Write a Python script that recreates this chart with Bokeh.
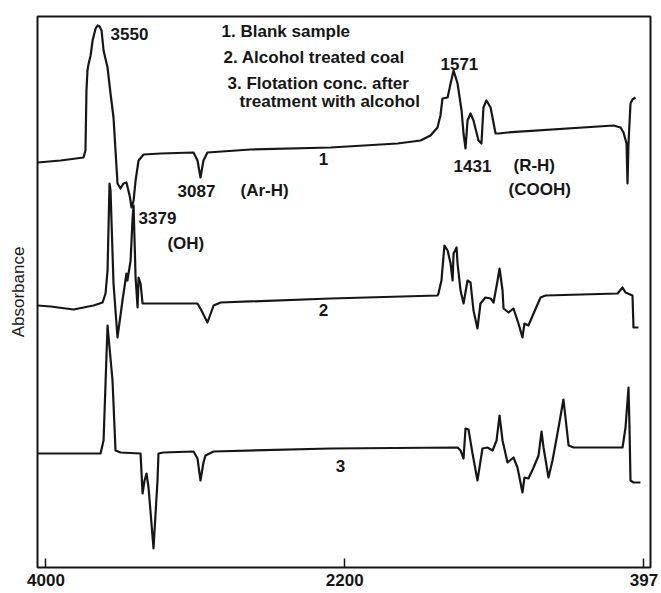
from bokeh.plotting import figure
from bokeh.models import Range1d, FixedTicker, ColumnDataSource
from bokeh.core.properties import value
from bokeh.embed import file_html
from bokeh.resources import INLINE

# --- IR spectra (wavenumber in cm-1, absorbance in arbitrary offset units) ---
# 1. Blank sample
wn1 = [4051, 3912, 3774, 3762, 3756, 3750, 3744, 3731, 3719, 3701, 3689, 3677, 3665,
       3653, 3629, 3611, 3593, 3581, 3569, 3551, 3533, 3515, 3496, 3484, 3472, 3460,
       3442, 3412, 3310, 3111, 3087, 3069, 3051, 3027, 2767, 2285, 1882, 1743, 1683,
       1641, 1623, 1611, 1580, 1562, 1544, 1520, 1496, 1484, 1472, 1460, 1442, 1424,
       1394, 1376, 1364, 1346, 1321, 1291, 1273, 1219, 580, 538, 520, 502, 496, 490,
       478, 466, 448]
ab1 = [4.05, 4.07, 4.10, 4.17, 4.77, 4.97, 5.03, 5.12, 5.27, 5.39, 5.42, 5.41, 5.37,
       5.17, 5.00, 4.74, 4.50, 4.17, 3.84, 3.79, 3.84, 3.85, 3.72, 3.60, 3.67, 3.87,
       4.07, 4.13, 4.14, 4.15, 4.07, 3.90, 4.07, 4.15, 4.18, 4.20, 4.24, 4.27, 4.32,
       4.40, 4.52, 4.69, 4.70, 4.84, 4.97, 4.84, 4.57, 4.34, 4.19, 4.47, 4.54, 4.47,
       4.27, 4.24, 4.60, 4.67, 4.60, 4.34, 4.34, 4.35, 4.42, 4.40, 4.35, 4.24, 3.84,
       4.24, 4.64, 4.68, 4.70]

# 2. Alcohol treated coal
wn2 = [4051, 3972, 3834, 3713, 3659, 3641, 3629, 3617, 3611, 3593, 3569, 3539, 3515,
       3509, 3490, 3478, 3472, 3460, 3448, 3442, 3430, 3418, 3388, 3087, 3063, 3027,
       2990, 2948, 2285, 1641, 1635, 1617, 1599, 1580, 1562, 1550, 1544, 1526, 1520,
       1502, 1484, 1460, 1442, 1424, 1400, 1382, 1352, 1321, 1303, 1279, 1267, 1249,
       1243, 1213, 1183, 1153, 1129, 1117, 1093, 1062, 1020, 990, 556, 526, 508, 466,
       460, 430]
ab2 = [2.62, 2.61, 2.58, 2.62, 2.65, 2.74, 2.97, 3.84, 3.77, 2.84, 2.30, 2.67, 2.94,
       2.87, 3.07, 3.50, 3.62, 2.90, 2.60, 2.90, 2.84, 2.64, 2.64, 2.64, 2.57, 2.45,
       2.62, 2.65, 2.69, 2.72, 2.74, 2.87, 3.22, 3.17, 3.04, 2.87, 3.14, 3.20, 3.04,
       2.77, 2.64, 2.87, 2.85, 2.57, 2.39, 2.64, 2.70, 2.69, 2.65, 2.87, 2.99, 2.77,
       2.59, 2.55, 2.59, 2.44, 2.30, 2.44, 2.42, 2.54, 2.70, 2.72, 2.74, 2.80, 2.75,
       2.72, 2.40, 2.40]

# 3. Flotation concentrate after treatment with alcohol
wn3 = [4051, 3671, 3653, 3629, 3599, 3581, 3551, 3430, 3418, 3406, 3394, 3382, 3352,
       3328, 3322, 3292, 3111, 3087, 3069, 3051, 3039, 2990, 2285, 1520, 1502, 1484,
       1472, 1454, 1430, 1400, 1370, 1340, 1309, 1285, 1267, 1249, 1219, 1183, 1159,
       1129, 1117, 1093, 1062, 1032, 1014, 1002, 972, 948, 918, 882, 851, 821, 526,
       508, 490, 484, 478, 460, 418]
ab3 = [1.14, 1.14, 1.27, 2.42, 1.87, 1.17, 1.15, 1.14, 0.74, 0.87, 0.94, 0.80, 0.19,
       0.87, 1.14, 1.15, 1.16, 1.09, 0.87, 1.05, 1.12, 1.16, 1.19, 1.20, 1.17, 1.09,
       1.39, 1.38, 1.14, 0.87, 1.19, 1.20, 1.17, 1.27, 1.52, 1.27, 1.05, 1.10, 1.00,
       0.75, 0.90, 0.89, 1.00, 1.12, 1.36, 1.20, 0.90, 1.07, 1.34, 1.68, 1.22, 1.20,
       1.20, 1.40, 1.80, 1.40, 0.87, 0.85, 0.85]

x_ticks = [4000, 2200, 397]

# key text (wavenumber, absorbance, text)
key_x = [2942, 2930, 2906, 2834]
key_y = [5.36, 5.10, 4.84, 4.66]
key_text = ["1. Blank sample", "2. Alcohol treated coal",
            "3. Flotation conc. after", "treatment with alcohol"]

# band assignments
band_x = [3611, 1623, 1544, 1183, 1213, 3207, 2828, 3442, 3268]
band_y = [5.34, 5.04, 4.02, 4.02, 3.78, 3.77, 3.77, 3.50, 3.24]
band_text = ["3550", "1571", "1431", "(R-H)", "(COOH)", "3087", "(Ar-H)", "3379", "(OH)"]

# curve numbers
num_x = [2328, 2328, 2225]
num_y = [4.09, 2.58, 1.02]
num_text = ["1", "2", "3"]

INK = "#161616"
FONT = "Liberation Sans"

p = figure(width=661, height=593, output_backend="svg", toolbar_location=None,
           x_range=Range1d(4051, 357.5), y_range=Range1d(0, 5.51),
           min_border_left=37, min_border_right=11, min_border_top=16,
           min_border_bottom=26)
p.background_fill_color = "white"
p.border_fill_color = "white"
p.outline_line_color = INK
p.outline_line_width = 2
p.grid.visible = False

for wn, ab in ((wn1, ab1), (wn2, ab2), (wn3, ab3)):
    p.line(wn, ab, line_color=INK, line_width=2.2, line_join="round")

p.text(x=key_x, y=key_y, text=key_text, text_font=value(FONT),
       text_font_size="17px", text_font_style="bold", text_color=INK,
       text_align="left", text_baseline="middle")
p.text(x=band_x, y=band_y, text=band_text, text_font=value(FONT),
       text_font_size="17px", text_font_style="bold", text_color=INK,
       text_align="left", text_baseline="middle")
p.text(x=num_x, y=num_y, text=num_text, text_font=value(FONT),
       text_font_size="17px", text_font_style="bold", text_color=INK,
       text_align="center", text_baseline="middle")

xa = p.xaxis[0]
xa.ticker = FixedTicker(ticks=x_ticks)
xa.major_tick_in = 9
xa.major_tick_out = 0
xa.major_tick_line_color = INK
xa.major_tick_line_width = 1.5
xa.minor_tick_line_color = None
xa.axis_line_color = None
xa.major_label_standoff = 6
xa.major_label_text_font = FONT
xa.major_label_text_font_size = "17px"
xa.major_label_text_font_style = "bold"
xa.major_label_text_color = INK

ya = p.yaxis[0]
ya.ticker = FixedTicker(ticks=[])
ya.axis_line_color = None
ya.major_tick_line_color = None
ya.minor_tick_line_color = None
ya.axis_label = "Absorbance"
ya.axis_label_standoff = 10
ya.axis_label_text_font = FONT
ya.axis_label_text_font_size = "17px"
ya.axis_label_text_font_style = "normal"
ya.axis_label_text_color = INK

open("out.html", "w").write(file_html(p, INLINE))
